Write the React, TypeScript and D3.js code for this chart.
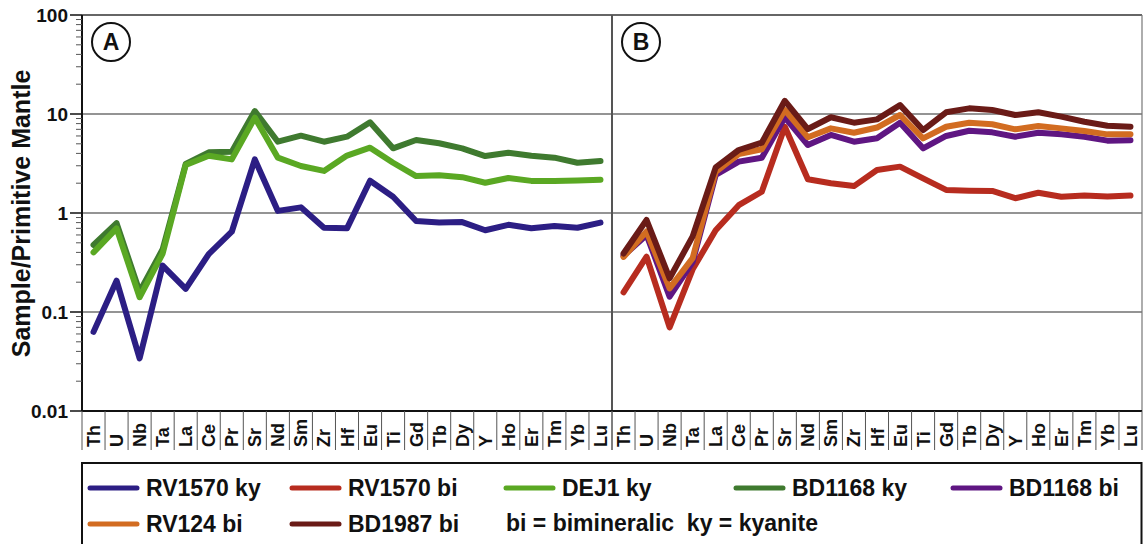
import React from "react";
import * as d3 from "d3";

const elements = ["Th","U","Nb","Ta","La","Ce","Pr","Sr","Nd","Sm","Zr","Hf","Eu","Ti","Gd","Tb","Dy","Y","Ho","Er","Tm","Yb","Lu"];
const yTickValues = [100, 10, 1, 0.1, 0.01];
const yTickLabels = ["100", "10", "1", "0.1", "0.01"];

// Panel A
const rv1570ky = [0.063,0.207,0.034,0.294,0.171,0.385,0.647,3.48,1.05,1.14,0.71,0.70,2.12,1.46,0.83,0.80,0.81,0.67,0.76,0.70,0.74,0.71,0.80];
const dej1ky = [0.40,0.70,0.141,0.39,3.05,3.79,3.48,9.2,3.62,2.98,2.66,3.80,4.57,3.22,2.36,2.40,2.30,2.02,2.26,2.11,2.11,2.13,2.17];
const bd1168ky = [0.475,0.79,0.16,0.43,3.13,4.10,4.16,10.7,5.25,6.04,5.25,5.90,8.25,4.50,5.46,5.06,4.50,3.76,4.06,3.79,3.62,3.22,3.35];
// Panel B
const rv1570bi = [0.158,0.362,0.070,0.27,0.67,1.20,1.64,7.44,2.19,2.00,1.87,2.72,2.94,2.24,1.71,1.68,1.67,1.41,1.60,1.46,1.50,1.47,1.50];
const bd1168bi = [0.37,0.60,0.143,0.32,2.42,3.30,3.62,9.27,4.86,6.14,5.25,5.70,8.17,4.50,6.00,6.78,6.53,5.90,6.47,6.23,5.90,5.38,5.42];
const rv124bi = [0.36,0.65,0.173,0.35,2.61,3.94,4.40,10.97,5.82,7.16,6.47,7.30,9.77,5.68,7.44,8.17,7.87,7.00,7.57,7.16,6.73,6.23,6.23];
const bd1987bi = [0.39,0.85,0.219,0.58,2.89,4.33,5.13,13.6,7.05,9.27,8.17,8.83,12.3,6.89,10.4,11.4,10.97,9.77,10.4,9.40,8.36,7.62,7.44];

const C = {
  blue: "#2c1e84",
  red: "#b72c1f",
  lgreen: "#5aa823",
  dgreen: "#3f7a2f",
  purple: "#5f1682",
  orange: "#d26c21",
  dred: "#6a1b17",
};

const panelASeries = [
  { name: "BD1168 ky", values: bd1168ky, color: C.dgreen },
  { name: "DEJ1 ky", values: dej1ky, color: C.lgreen },
  { name: "RV1570 ky", values: rv1570ky, color: C.blue },
];
const panelBSeries = [
  { name: "RV1570 bi", values: rv1570bi, color: C.red },
  { name: "BD1168 bi", values: bd1168bi, color: C.purple },
  { name: "RV124 bi", values: rv124bi, color: C.orange },
  { name: "BD1987 bi", values: bd1987bi, color: C.dred },
];

const legendRow1 = [
  { name: "RV1570 ky", color: C.blue, x: 90 },
  { name: "RV1570 bi", color: C.red, x: 292 },
  { name: "DEJ1 ky", color: C.lgreen, x: 506 },
  { name: "BD1168 ky", color: C.dgreen, x: 736 },
  { name: "BD1168 bi", color: C.purple, x: 953 },
];
const legendRow2 = [
  { name: "RV124 bi", color: C.orange, x: 90 },
  { name: "BD1987 bi", color: C.dred, x: 292 },
];
const legendNote = "bi = bimineralic  ky = kyanite";

const FONT = "'Liberation Sans', Arial, Helvetica, sans-serif";
const TOP = 15;
const BOTTOM = 411;
const AL = 82, AR = 612, BL = 612, BR = 1142;

const y = d3.scaleLog().domain([0.01, 100]).range([BOTTOM, TOP]);
const xA = d3.scaleBand<string>().domain(elements).range([AL, AR]).padding(0);
const xB = d3.scaleBand<string>().domain(elements).range([BL, BR]).padding(0);

function Panel({ x, series, label }: { x: d3.ScaleBand<string>; series: { name: string; values: number[]; color: string }[]; label: string }) {
  const [x0, x1] = x.range();
  const line = d3
    .line<number>()
    .x((_, i) => (x(elements[i]) as number) + x.bandwidth() / 2)
    .y((v) => y(v));
  return (
    <g>
      {elements.map((e, i) => (
        <line key={"sep" + i} x1={x(e)} x2={x(e)} y1={BOTTOM} y2={450} stroke="#555" strokeWidth={1} />
      ))}
      <line x1={x1} x2={x1} y1={BOTTOM} y2={450} stroke="#555" strokeWidth={1} />
      {elements.map((e) => {
        const cx = (x(e) as number) + x.bandwidth() / 2;
        return (
          <text
            key={"lab" + e}
            transform={`translate(${cx + 6.5},447) rotate(-90)`}
            fontFamily={FONT}
            fontWeight="bold"
            fontSize={18}
            fill="#111"
          >
            {e}
          </text>
        );
      })}
      {series.map((s) => (
        <path
          key={s.name}
          d={line(s.values) || ""}
          fill="none"
          stroke={s.color}
          strokeWidth={6}
          strokeLinejoin="round"
          strokeLinecap="round"
        />
      ))}
      <circle cx={x0 + 29} cy={42} r={19} fill="none" stroke="#111" strokeWidth={2} />
      <text x={x0 + 29} y={50} textAnchor="middle" fontFamily={FONT} fontWeight="bold" fontSize={23} fill="#111">
        {label}
      </text>
    </g>
  );
}

export default function App() {
  const minor: number[] = [];
  for (let d = -2; d < 2; d++) {
    for (let k = 2; k <= 9; k++) minor.push(k * Math.pow(10, d));
  }
  return (
    <svg width={1143} height={544} style={{ position: "absolute", left: 0, top: 0, background: "#fff" }}>
      <rect x={0} y={0} width={1143} height={544} fill="#fff" />
      {[10, 1, 0.1].map((v) => (
        <line key={"g" + v} x1={AL} x2={BR} y1={y(v)} y2={y(v)} stroke="#2a2a2a" strokeWidth={1.2} />
      ))}
      <line x1={AL} x2={BR} y1={TOP} y2={TOP} stroke="#333" strokeWidth={1.5} />
      <line x1={BR} x2={BR} y1={TOP} y2={BOTTOM} stroke="#777" strokeWidth={1.2} />
      <line x1={BL} x2={BL} y1={TOP} y2={BOTTOM} stroke="#555" strokeWidth={2} />
      <line x1={AL} x2={AL} y1={TOP} y2={BOTTOM} stroke="#111" strokeWidth={2} />
      <line x1={AL} x2={BR} y1={BOTTOM} y2={BOTTOM} stroke="#111" strokeWidth={2} />
      {minor.map((v) => (
        <line key={"m" + v} x1={76} x2={AL} y1={y(v)} y2={y(v)} stroke="#555" strokeWidth={1} />
      ))}
      {yTickValues.map((v, i) => (
        <g key={"t" + v}>
          <line x1={70} x2={AL} y1={y(v)} y2={y(v)} stroke="#111" strokeWidth={1.5} />
          <text x={68} y={y(v) + 7} textAnchor="end" fontFamily={FONT} fontWeight="bold" fontSize={19} fill="#111">
            {yTickLabels[i]}
          </text>
        </g>
      ))}
      <text
        transform={`translate(30,213.5) rotate(-90)`}
        textAnchor="middle"
        fontFamily={FONT}
        fontWeight="bold"
        fontSize={25}
        fill="#111"
      >
        Sample/Primitive Mantle
      </text>
      <Panel x={xA} series={panelASeries} label="A" />
      <Panel x={xB} series={panelBSeries} label="B" />
      <rect x={82} y={463} width={1059.5} height={100} fill="none" stroke="#111" strokeWidth={2} />
      {legendRow1.map((l) => (
        <g key={l.name}>
          <line x1={l.x} x2={l.x + 47} y1={488} y2={488} stroke={l.color} strokeWidth={5} strokeLinecap="round" />
          <text x={l.x + 56} y={496} fontFamily={FONT} fontWeight="bold" fontSize={23} fill="#111">
            {l.name}
          </text>
        </g>
      ))}
      {legendRow2.map((l) => (
        <g key={l.name}>
          <line x1={l.x} x2={l.x + 47} y1={524} y2={524} stroke={l.color} strokeWidth={5} strokeLinecap="round" />
          <text x={l.x + 56} y={532} fontFamily={FONT} fontWeight="bold" fontSize={23} fill="#111">
            {l.name}
          </text>
        </g>
      ))}
      <text x={506} y={531} fontFamily={FONT} fontWeight="bold" fontSize={23} fill="#111" style={{ whiteSpace: "pre" }}>
        {legendNote}
      </text>
    </svg>
  );
}
